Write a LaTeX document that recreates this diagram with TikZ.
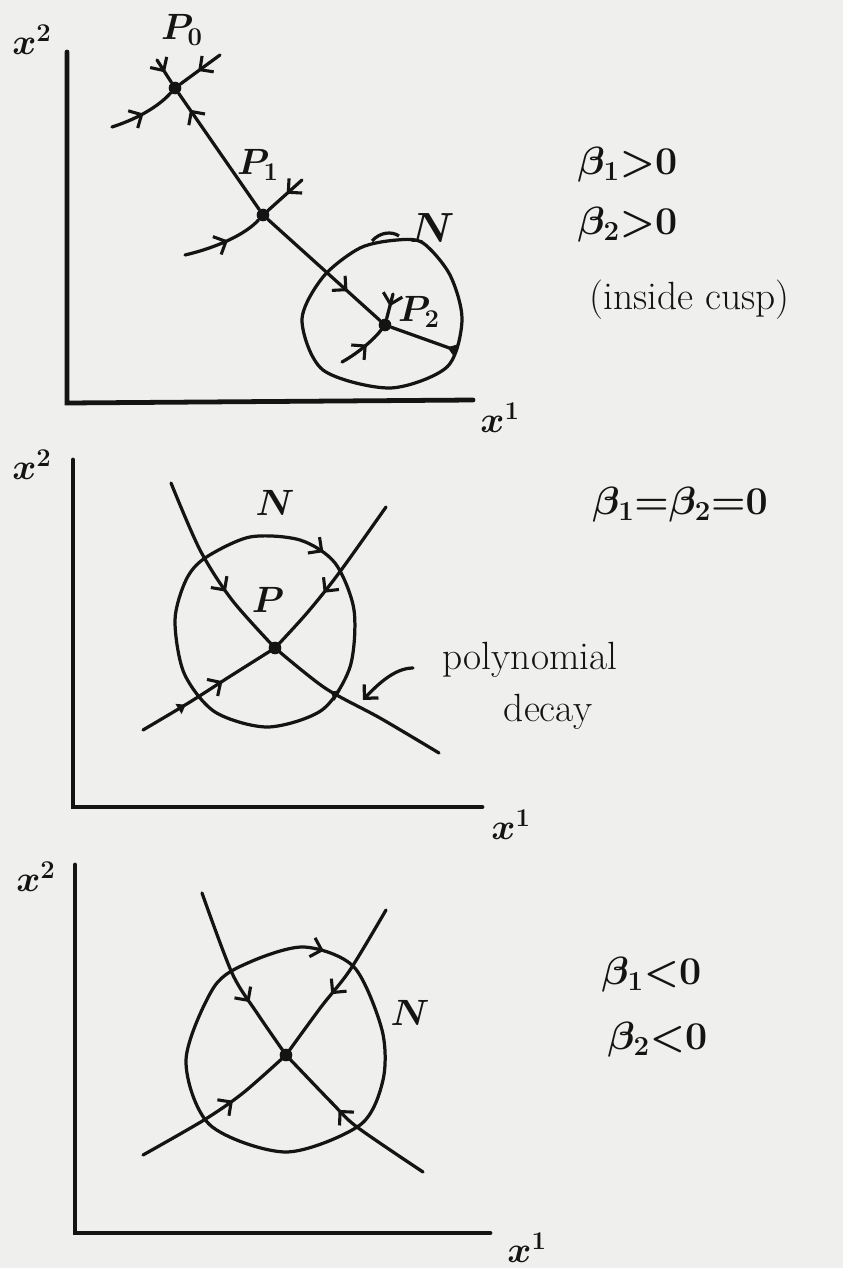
\RequirePackage{fix-cm}
\documentclass[tikz,border=0pt]{standalone}
\usepackage{tikz}
\usetikzlibrary{arrows.meta,decorations.markings}
\definecolor{paper}{HTML}{EFEFED}
\definecolor{pen}{HTML}{141414}
\tikzset{
  axis/.style={line width=3.4pt, color=pen, line cap=round},
  traj/.style={line width=2.3pt, color=pen, line cap=round},
  nbhd/.style={line width=2.3pt, color=pen},
  arr/.style={postaction={decorate, decoration={markings,
    mark=at position #1 with {\arrow{Straight Barb[length=7pt,width=14pt,line width=2.2pt]}}}}},
  tick/.style={postaction={decorate, decoration={markings,
    mark=at position #1 with {\arrow{Triangle[open,length=6pt,width=8pt,line width=1.5pt]}}}}},
  tickarr/.style 2 args={postaction={decorate, decoration={markings,
    mark=at position #1 with {\arrow{Triangle[open,length=6pt,width=8pt,line width=1.5pt]}},
    mark=at position #2 with {\arrow{Straight Barb[length=7pt,width=14pt,line width=2.2pt]}}}}},
  fixpt/.style={circle, fill=pen, inner sep=0pt, minimum size=9pt},
  lbl/.style={font=\fontsize{26}{30}\selectfont\boldmath, text=pen, inner sep=1pt},
  cond/.style={lbl, font=\fontsize{28}{32}\selectfont\boldmath, anchor=west},
}

\begin{document}
\begin{tikzpicture}[x=0.025cm,y=-0.025cm]
  \useasboundingbox (0,0) rectangle (843,1268);
  \fill[paper] (0,0) rectangle (843,1268);

  % beta_1, beta_2 > 0
  \coordinate (ya) at (67,52);
  \coordinate (oa) at (67,403);
  \coordinate (xa) at (473,400);
  \draw[axis] (ya) -- (oa) -- (xa);
  \node[lbl] (x2a) at (32,40) {$x^2$};
  \node[lbl] (x1a) at (500,418) {$x^1$};
  \node[fixpt] (P0) at (175,88) {};
  \node[fixpt] (P1) at (263,215) {};
  \node[fixpt] (P2) at (385,325) {};
  \node[lbl] (lP0) at (182,30) {$P_0$};
  \node[lbl] (lP1) at (258,165) {$P_1$};
  \node[lbl] (lP2) at (419,312) {$P_2$};
  \node[lbl, font=\fontsize{30}{34}\selectfont\boldmath] (Na) at (432,228) {$N$};
  \draw[nbhd] plot[smooth cycle] coordinates {(323,277) (360,248) (397,240) (423,243)
    (450,275) (462,320) (447,367) (390,388) (323,370) (302,320)};
  \draw[nbhd] (372,241) .. controls (380,232) and (392,231) .. (399,236);
  \coordinate (a0) at (112,127);
  \coordinate (b0) at (157,60);
  \coordinate (c0) at (220,55);
  \coordinate (a1) at (185,255);
  \coordinate (b1) at (302,180);
  \coordinate (a2) at (342,362);
  \coordinate (b2) at (393,294);
  \coordinate (e2) at (455,350);
  \draw[traj, arr=0.86] (P1) -- (P0);
  \draw[traj, arr=0.71] (P1) -- (P2);
  \draw[traj, tick=0.12] (e2) -- (P2);
  \draw[traj, arr=0.5] (a0) .. controls (140,118) and (160,105) .. (P0);
  \draw[traj, arr=0.55] (b0) -- (P0);
  \draw[traj, arr=0.55] (c0) -- (P0);
  \draw[traj, arr=0.55] (a1) .. controls (215,248) and (245,235) .. (P1);
  \draw[traj, arr=0.45] (b1) -- (P1);
  \draw[traj, arr=0.6] (a2) .. controls (360,352) and (375,338) .. (P2);
  \draw[traj, arr=0.5] (b2) -- (P2);
  \node[cond] (ca1) at (576,165) {$\beta_1{>}0$};
  \node[cond] (ca2) at (576,225) {$\beta_2{>}0$};
  \node[cond] (ca3) at (588,300) {(inside cusp)};

  % beta_1 = beta_2 = 0
  \coordinate (yb) at (73,460);
  \coordinate (ob) at (73,807);
  \coordinate (xb) at (482,807);
  \draw[axis] (yb) -- (ob) -- (xb);
  \node[lbl] (x2b) at (32,465) {$x^2$};
  \node[lbl] (x1b) at (511,825) {$x^1$};
  \node[fixpt] (Pc) at (275,648) {};
  \node[lbl] (lPc) at (268,600) {$P$};
  \node[lbl] (Nb) at (275,503) {$N$};
  \draw[nbhd, arr=0.13] plot[smooth cycle] coordinates {(205,558) (250,537) (300,540)
    (335,563) (354,610) (350,667) (322,710) (268,727) (215,712) (184,673) (175,620) (186,580)};
  \coordinate (u1) at (171,483);
  \coordinate (u2) at (386,507);
  \coordinate (d1) at (143,730);
  \coordinate (d2) at (439,753);
  \draw[traj, arr=0.62] plot[smooth] coordinates {(u1) (200,550) (232,600) (Pc)};
  \draw[traj, arr=0.59] plot[smooth] coordinates {(u2) (339,573) (307,613) (Pc)};
  \draw[traj, tickarr={0.32}{0.6}] plot[smooth] coordinates {(d1) (190,702) (229,677) (Pc)};
  \draw[traj, tick=0.64] plot[smooth] coordinates {(d2) (380,718) (325,688) (Pc)};
  \node[cond, anchor=center] (cb) at (680,505) {$\beta_1{=}\beta_2{=}0$};
  \node[cond, anchor=center] (poly) at (530,660) {polynomial};
  \node[cond, anchor=center] (decay) at (548,712) {decay};
  \coordinate (pdtail) at (413,668);
  \coordinate (pdtip) at (363,700);
  \draw[traj, -{Straight Barb[length=7pt,width=14pt]}] (pdtail) .. controls (395,668) and (378,684) .. (pdtip);

  % beta_1, beta_2 < 0
  \coordinate (yc) at (75,865);
  \coordinate (oc) at (75,1233);
  \coordinate (xc) at (490,1233);
  \draw[axis] (yc) -- (oc) -- (xc);
  \node[lbl] (x2c) at (36,877) {$x^2$};
  \node[lbl] (x1c) at (527,1248) {$x^1$};
  \node[fixpt] (Q) at (286,1055) {};
  \node[lbl] (Nc) at (410,1013) {$N$};
  \draw[nbhd, arr=0.12] plot[smooth cycle] coordinates {(214,987) (250,962) (304,947)
    (354,967) (382,1030) (383,1080) (360,1125) (286,1152) (210,1125) (186,1060)};
  \coordinate (v1) at (202,893);
  \coordinate (v2) at (386,910);
  \coordinate (w1) at (143,1155);
  \coordinate (w2) at (423,1172);
  \draw[traj, arr=0.65] plot[smooth] coordinates {(v1) (232,973) (257,1013) (Q)};
  \draw[traj, arr=0.57] plot[smooth] coordinates {(v2) (350,970) (321,1007) (Q)};
  \draw[traj, arr=0.6] plot[smooth] coordinates {(w1) (204,1120) (243,1093) (Q)};
  \draw[traj, arr=0.58] plot[smooth] coordinates {(w2) (357,1127) (332,1103) (Q)};
  \node[cond] (cc1) at (600,975) {$\beta_1{<}0$};
  \node[cond] (cc2) at (606,1040) {$\beta_2{<}0$};
\end{tikzpicture}
\end{document}
